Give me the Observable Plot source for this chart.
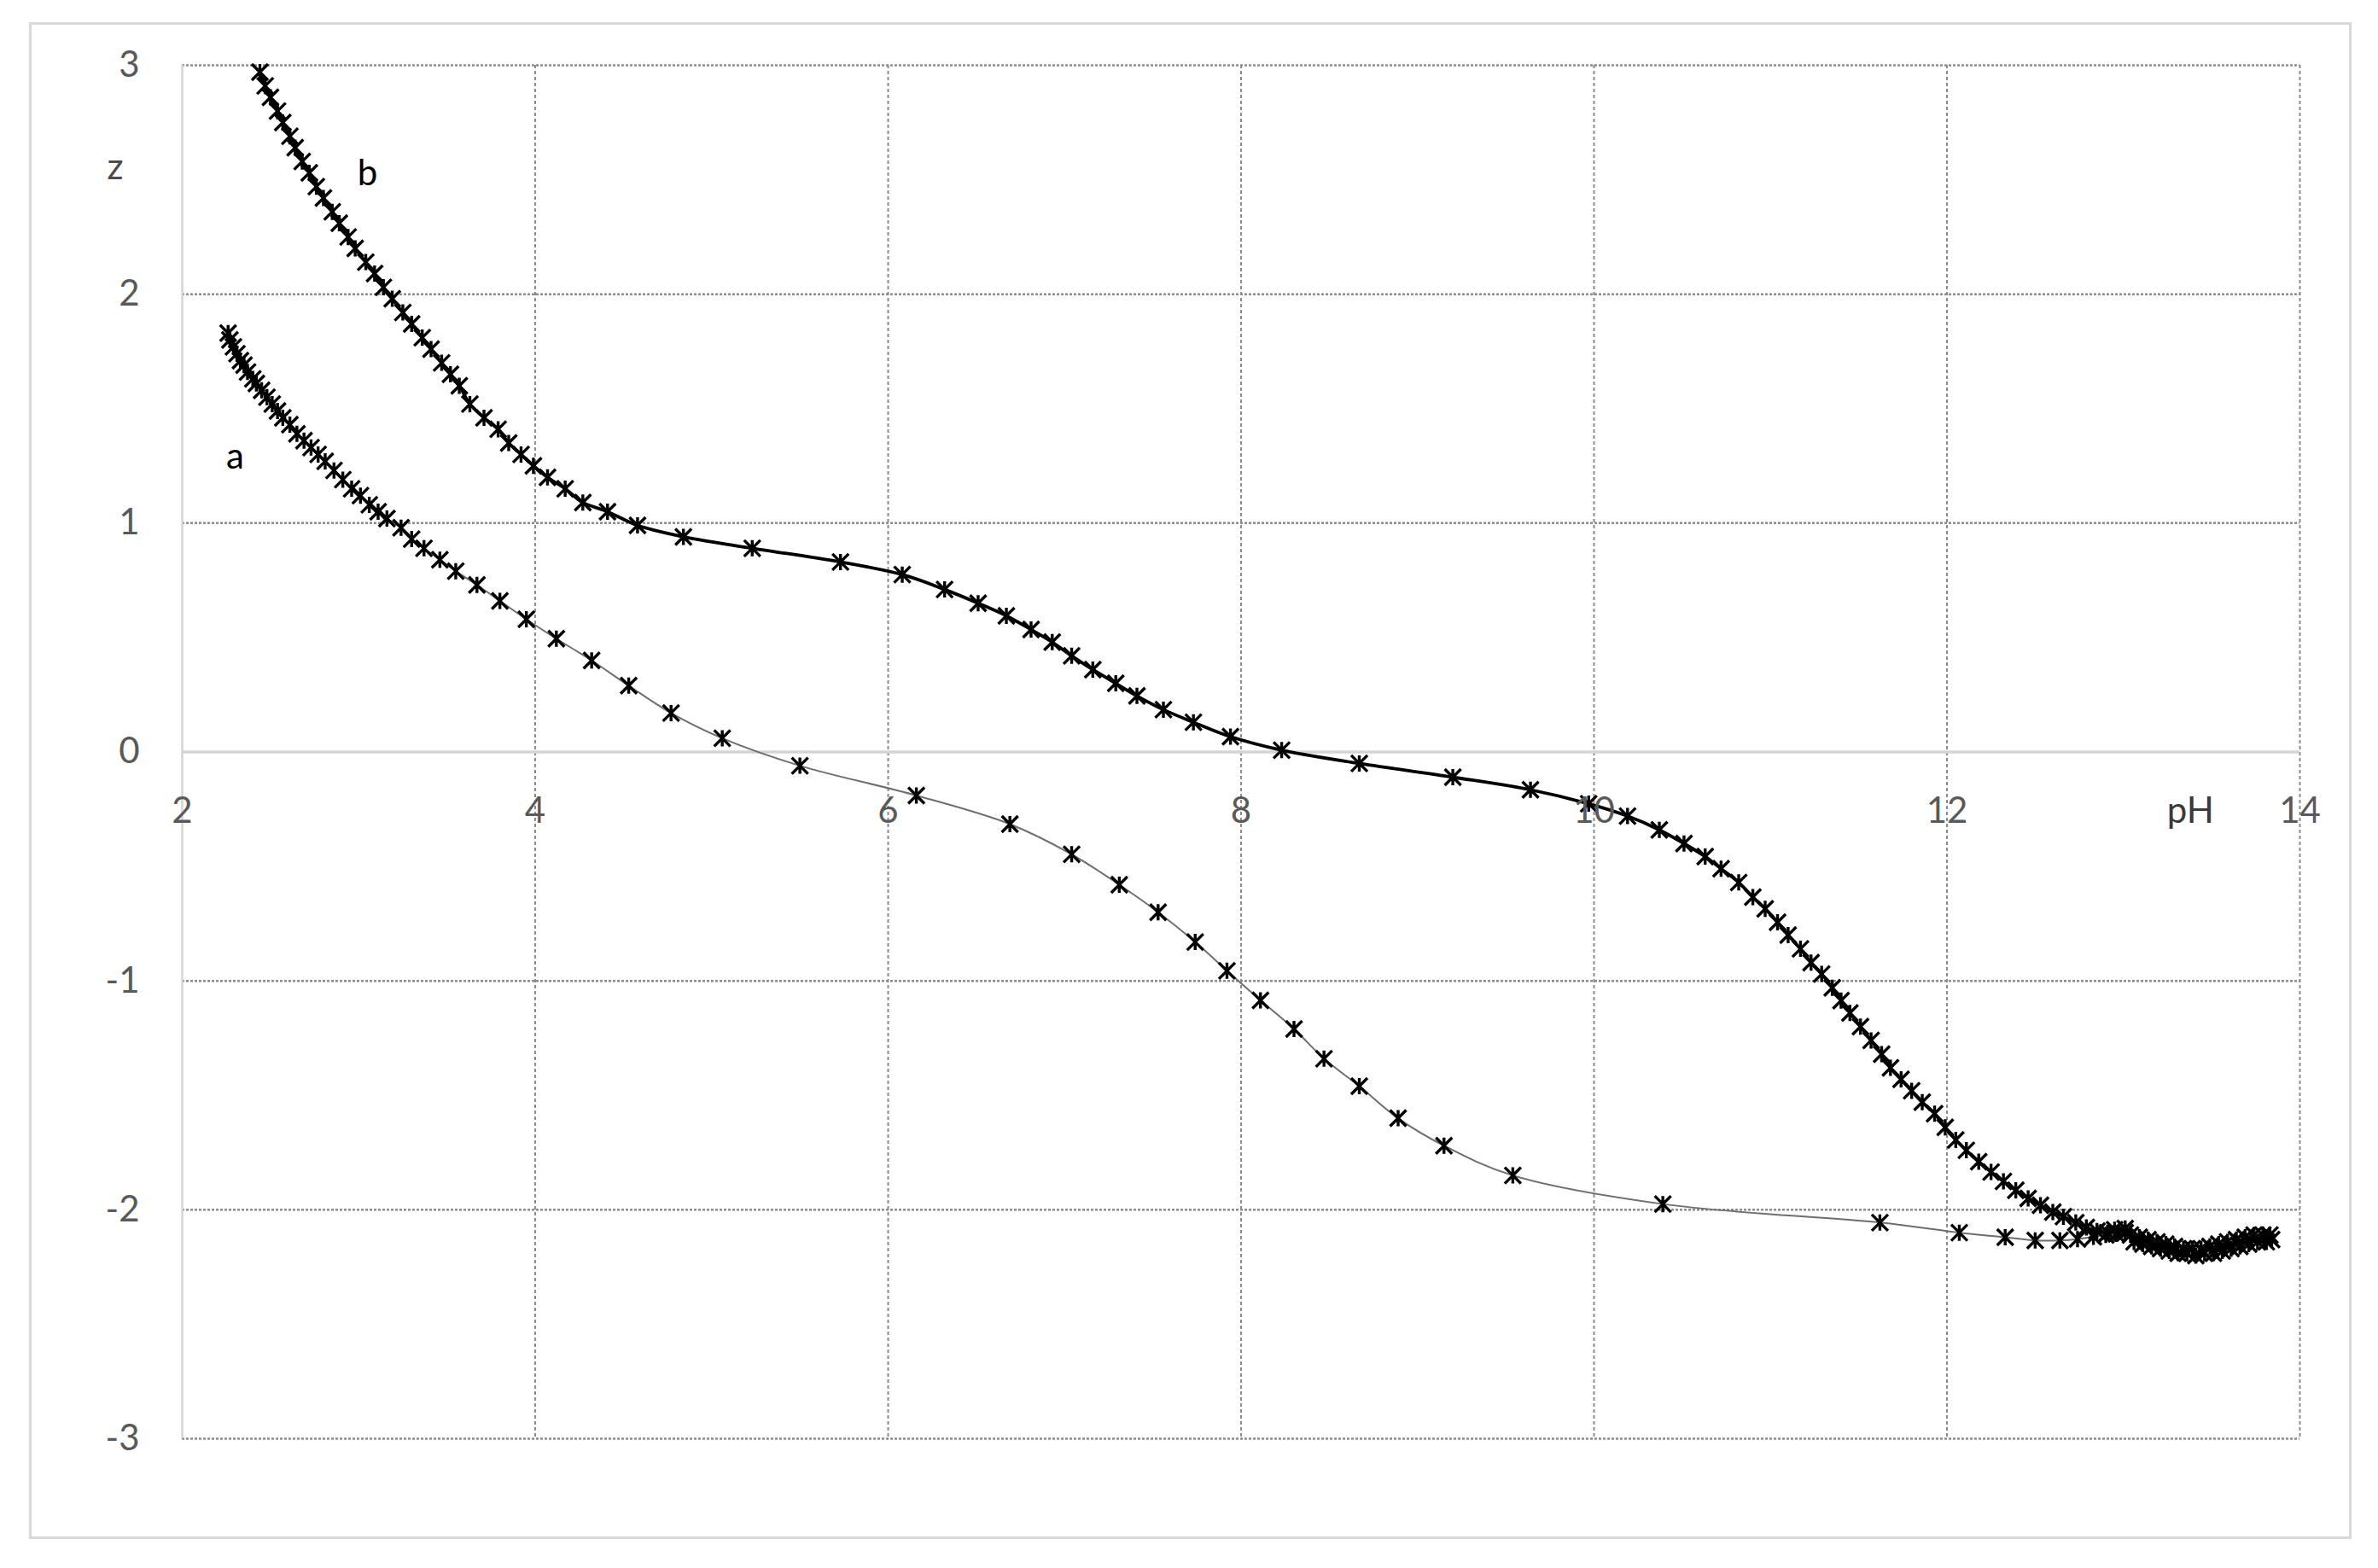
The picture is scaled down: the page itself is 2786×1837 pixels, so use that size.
<!DOCTYPE html>
<html>
<head>
<meta charset="utf-8">
<script src="https://cdn.jsdelivr.net/npm/d3@7"></script>
<script src="https://cdn.jsdelivr.net/npm/@observablehq/plot@0.6"></script>
<style>
  html, body { margin: 0; padding: 0; background: #fff; }
  #wrap { position: relative; width: 2786px; height: 1837px; overflow: hidden; }
  #border { position: absolute; left: 34px; top: 26px; width: 2721px; height: 1777px;
            border: 3px solid #d9d9d9; box-sizing: border-box; pointer-events: none; }
</style>
</head>
<body>
<div id="wrap"><div id="chart"></div><div id="border"></div></div>
<script>
// ---- data (pH, z) ----
const seriesA = [
  [2.26,1.83],[2.27,1.80],[2.29,1.77],[2.31,1.74],[2.33,1.71],[2.35,1.69],[2.37,1.66],[2.40,1.63],
  [2.42,1.61],[2.45,1.58],[2.48,1.55],[2.51,1.52],[2.54,1.49],[2.57,1.46],[2.61,1.43],[2.65,1.39],
  [2.69,1.36],[2.73,1.33],[2.77,1.30],[2.81,1.27],[2.86,1.23],[2.91,1.19],[2.96,1.15],[3.01,1.12],
  [3.06,1.08],[3.11,1.05],[3.16,1.02],[3.24,0.98],[3.30,0.93],[3.37,0.89],[3.46,0.84],[3.55,0.79],
  [3.67,0.73],[3.80,0.66],[3.95,0.58],[4.12,0.495],[4.32,0.40],[4.53,0.29],[4.77,0.17],[5.06,0.06],
  [5.50,-0.06],[6.16,-0.19],[6.69,-0.315],[7.04,-0.447],[7.31,-0.58],[7.53,-0.70],[7.74,-0.83],
  [7.92,-0.956],[8.11,-1.085],[8.30,-1.21],[8.47,-1.34],[8.67,-1.46],[8.89,-1.60],[9.15,-1.72],
  [9.54,-1.85],[10.39,-1.975],[11.62,-2.056],[12.07,-2.10],[12.33,-2.12],[12.50,-2.134],
  [12.64,-2.134],[12.74,-2.128],[12.83,-2.118],[12.90,-2.11],[12.96,-2.105],[13.01,-2.10]
];
const seriesB = [
  [2.44,2.97],[2.47,2.91],[2.50,2.86],[2.54,2.80],[2.57,2.75],[2.61,2.69],[2.64,2.64],[2.68,2.58],
  [2.72,2.53],[2.76,2.47],[2.80,2.42],[2.85,2.36],[2.89,2.31],[2.94,2.25],[2.98,2.20],[3.04,2.14],
  [3.09,2.09],[3.14,2.03],[3.19,1.98],[3.25,1.92],[3.30,1.87],[3.36,1.81],[3.41,1.76],[3.47,1.70],
  [3.52,1.65],[3.57,1.60],[3.63,1.52],[3.71,1.46],[3.79,1.41],[3.85,1.35],[3.92,1.30],[3.99,1.25],
  [4.07,1.20],[4.17,1.15],[4.27,1.09],[4.41,1.05],[4.58,0.99],[4.84,0.94],[5.23,0.89],[5.73,0.83],
  [6.08,0.775],[6.32,0.71],[6.51,0.65],[6.67,0.595],[6.81,0.535],[6.93,0.48],[7.04,0.42],[7.16,0.36],
  [7.29,0.30],[7.41,0.245],[7.56,0.185],[7.73,0.13],[7.94,0.067],[8.23,0.008],[8.67,-0.05],[9.20,-0.11],
  [9.64,-0.165],[9.97,-0.226],[10.19,-0.28],[10.37,-0.34],[10.51,-0.40],[10.63,-0.457],[10.72,-0.51],
  [10.82,-0.57],[10.90,-0.634],[10.97,-0.685],[11.04,-0.744],[11.10,-0.80],[11.17,-0.86],[11.23,-0.92],
  [11.29,-0.97],[11.35,-1.03],[11.40,-1.086],[11.45,-1.14],[11.51,-1.20],[11.57,-1.26],[11.63,-1.32],
  [11.68,-1.38],[11.74,-1.43],[11.80,-1.48],[11.86,-1.53],[11.93,-1.58],[11.99,-1.64],[12.05,-1.695],
  [12.11,-1.74],[12.18,-1.79],[12.25,-1.835],[12.32,-1.876],[12.39,-1.915],[12.46,-1.95],[12.53,-1.98],
  [12.60,-2.01],[12.66,-2.03],[12.73,-2.056],[12.79,-2.077],[12.85,-2.093],[12.91,-2.10],[12.95,-2.087],
  [13.01,-2.082],[13.04,-2.11],[13.06,-2.14],[13.09,-2.12],[13.11,-2.15],[13.14,-2.13],[13.16,-2.16],
  [13.19,-2.14],[13.21,-2.17],[13.24,-2.15],[13.26,-2.18],[13.29,-2.16],[13.31,-2.19],[13.34,-2.17],
  [13.36,-2.19],[13.39,-2.17],[13.41,-2.20],[13.44,-2.17],[13.46,-2.19],[13.49,-2.16],[13.51,-2.19],
  [13.54,-2.15],[13.56,-2.18],[13.59,-2.14],[13.61,-2.17],[13.64,-2.13],[13.66,-2.16],[13.69,-2.12],
  [13.71,-2.15],[13.74,-2.11],[13.76,-2.14],[13.79,-2.11],[13.81,-2.14],[13.83,-2.11],[13.84,-2.13]
];
const xTicks = [2, 4, 6, 8, 10, 12, 14];
const yTicks = [-3, -2, -1, 0, 1, 2, 3];
const seriesLabels = [
  {text: "a", pH: 2.30, z: 1.238},
  {text: "b", pH: 3.05, z: 2.476}
];
const yTitle = [{text: "z", pH: 1.62, z: 2.502}];
const xTitle = [{text: "pH", pH: 13.38, z: 0}];

const rowsA = seriesA.map(([pH, z]) => ({pH, z}));
const rowsB = seriesB.map(([pH, z]) => ({pH, z}));

// Excel-like "star" marker: X with a vertical bar
const star = {
  draw(ctx, size) {
    const r = Math.sqrt(size / Math.PI);
    ctx.moveTo(-r, -r); ctx.lineTo(r, r);
    ctx.moveTo(-r, r); ctx.lineTo(r, -r);
    ctx.moveTo(0, -r); ctx.lineTo(0, r);
  }
};

const font = "Lato, 'Open Sans', sans-serif";
const chart = Plot.plot({
  width: 2786,
  height: 1837,
  marginLeft: 213,
  marginRight: 92,
  marginTop: 76,
  marginBottom: 152,
  x: {domain: [2, 14], axis: null},
  y: {domain: [-3, 3], axis: null},
  style: {fontFamily: font, background: "transparent", overflow: "visible"},
  marks: [
    Plot.ruleX(xTicks.filter(d => d !== 2), {stroke: "#8c8c8c", strokeWidth: 2, strokeDasharray: "4,3"}),
    Plot.ruleY(yTicks.filter(d => d !== 0), {stroke: "#8c8c8c", strokeWidth: 2.5, strokeDasharray: "3,2"}),
    Plot.ruleX([2], {stroke: "#d4d4d4", strokeWidth: 2.5}),
    Plot.ruleY([0], {stroke: "#d4d4d4", strokeWidth: 3.5}),
    Plot.line(rowsA, {x: "pH", y: "z", curve: "catmull-rom", stroke: "#6e6e6e", strokeWidth: 2}),
    Plot.dot(rowsA, {x: "pH", y: "z", symbol: star, r: 9.5, fill: "none", stroke: "#000", strokeWidth: 3.4}),
    Plot.line(rowsB, {x: "pH", y: "z", curve: "catmull-rom", stroke: "#000", strokeWidth: 3.8}),
    Plot.dot(rowsB, {x: "pH", y: "z", symbol: star, r: 9.5, fill: "none", stroke: "#000", strokeWidth: 3.4}),
    Plot.text(yTicks, {x: 2, y: d => d, dx: -50, text: d => String(d), textAnchor: "end",
      lineAnchor: "middle", fill: "#595959", fontSize: 42, fontFamily: font}),
    Plot.text(xTicks, {x: d => d, y: 0, dy: 83, text: d => String(d), textAnchor: "middle",
      lineAnchor: "bottom", fill: "#595959", fontSize: 42, fontFamily: font}),
    Plot.text(yTitle, {x: "pH", y: "z", text: "text", textAnchor: "middle",
      lineAnchor: "bottom", fill: "#4a4a4a", fontSize: 42, fontFamily: font}),
    Plot.text(xTitle, {x: "pH", y: "z", dy: 83, text: "text", textAnchor: "middle",
      lineAnchor: "bottom", fill: "#3a3a3a", fontSize: 42, fontFamily: font}),
    Plot.text(seriesLabels, {x: "pH", y: "z", text: "text", textAnchor: "middle",
      lineAnchor: "bottom", fill: "#000", fontSize: 42, fontFamily: font})
  ]
});
document.getElementById("chart").appendChild(chart);
</script>
</body>
</html>
